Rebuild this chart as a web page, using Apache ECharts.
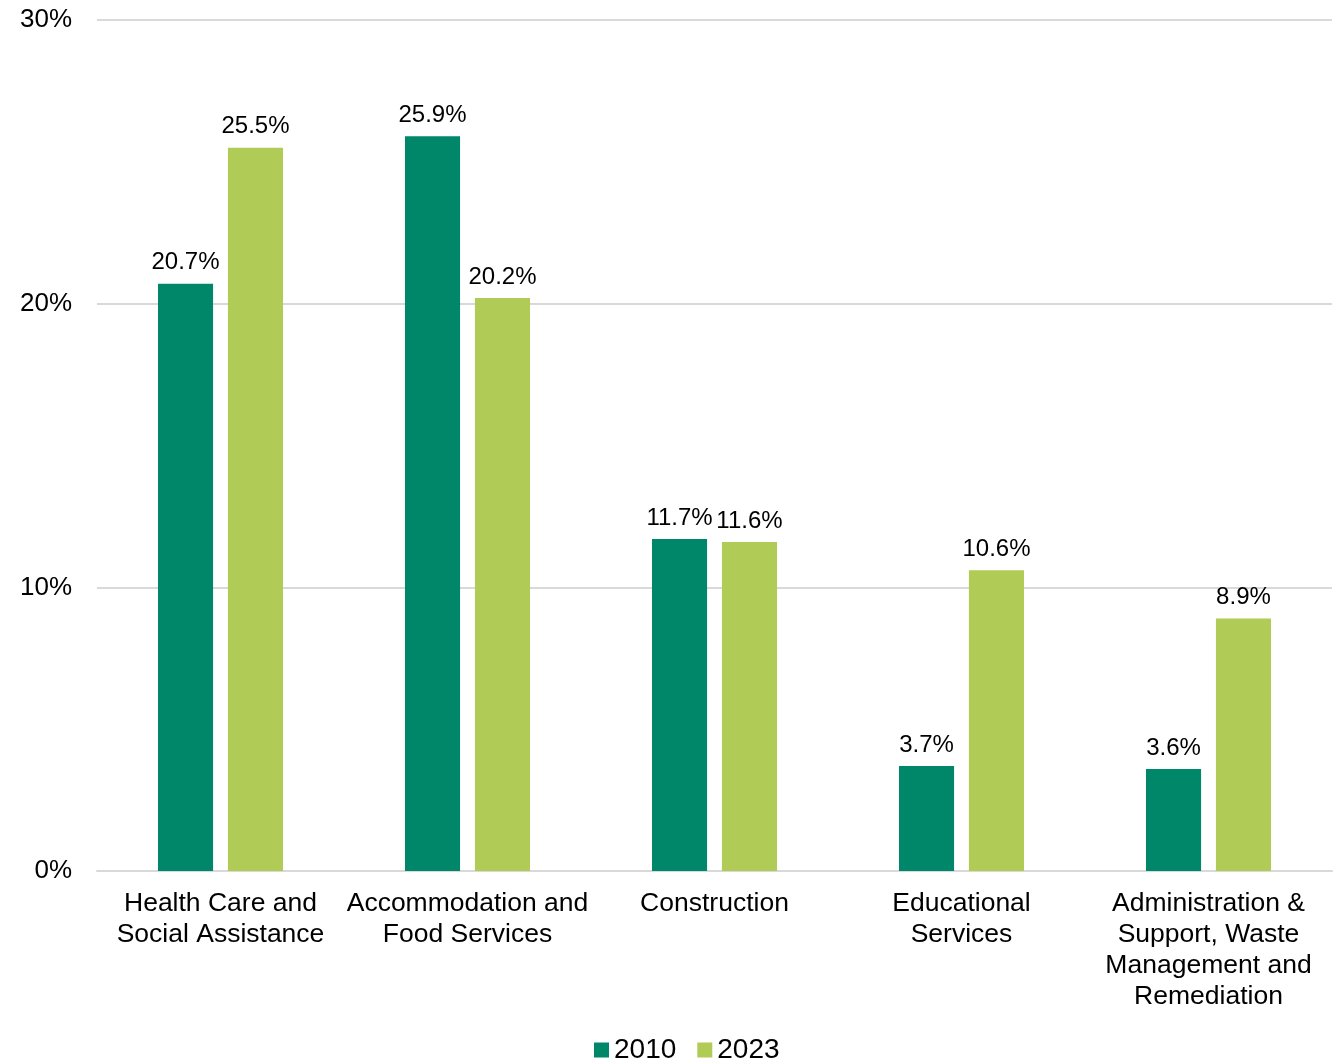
<!DOCTYPE html>
<html>
<head>
<meta charset="utf-8">
<script src="https://cdn.jsdelivr.net/npm/echarts@6/dist/echarts.min.js"></script>
<style>
  html, body { margin: 0; padding: 0; background: #fff; }
  #chart { width: 1340px; height: 1061px; }
</style>
</head>
<body>
<div id="chart"></div>
<script>
// Industry share of employment, 2010 vs 2023
const categories = [
  'Health Care and\nSocial Assistance',
  'Accommodation and\nFood Services',
  'Construction',
  'Educational\nServices',
  'Administration &\nSupport, Waste\nManagement and\nRemediation'
];
const values2010 = [20.7, 25.9, 11.7, 3.7, 3.6];
const values2023 = [25.5, 20.2, 11.6, 10.6, 8.9];
const yTicks = { min: 0, max: 30, interval: 10 };

const FONT = '"Liberation Sans", Arial, sans-serif';
const labelStyle = {
  show: true,
  position: 'top',
  distance: 9,
  fontFamily: FONT,
  fontSize: 24,
  color: '#000',
  formatter: p => p.value.toFixed(1) + '%'
};

const chart = echarts.init(document.getElementById('chart'), null, { renderer: 'canvas' });
chart.setOption({
  animation: false,
  backgroundColor: '#fff',
  grid: { left: 97, right: 8, top: 20, bottom: 190, containLabel: false },
  legend: {
    top: 1036,
    left: 594,
    padding: 0,
    itemWidth: 15,
    itemHeight: 15,
    itemGap: 21,
    icon: 'rect',
    textStyle: { fontFamily: FONT, fontSize: 28, color: '#000', padding: [0, 0, 0, 0] },
    data: ['2010', '2023']
  },
  xAxis: {
    type: 'category',
    data: categories,
    axisLine: { show: true, lineStyle: { color: '#D9D9D9', width: 2 } },
    axisTick: { show: false },
    axisLabel: {
      fontFamily: FONT,
      fontSize: 26.5,
      color: '#000',
      lineHeight: 31,
      margin: 17,
      interval: 0
    }
  },
  yAxis: {
    type: 'value',
    min: yTicks.min,
    max: yTicks.max,
    interval: yTicks.interval,
    axisLine: { show: false },
    axisTick: { show: false },
    splitLine: { lineStyle: { color: '#D9D9D9', width: 2 } },
    axisLabel: {
      fontFamily: FONT,
      fontSize: 26,
      color: '#000',
      margin: 25,
      formatter: v => v + '%'
    }
  },
  series: [
    {
      name: '2010',
      type: 'bar',
      data: values2010,
      barWidth: '22.3%',
      barGap: '27%',
      itemStyle: { color: '#00876A' },
      label: labelStyle
    },
    {
      name: '2023',
      type: 'bar',
      data: values2023,
      barWidth: '22.3%',
      itemStyle: { color: '#B0CB56' },
      label: labelStyle
    }
  ]
});
</script>
</body>
</html>
